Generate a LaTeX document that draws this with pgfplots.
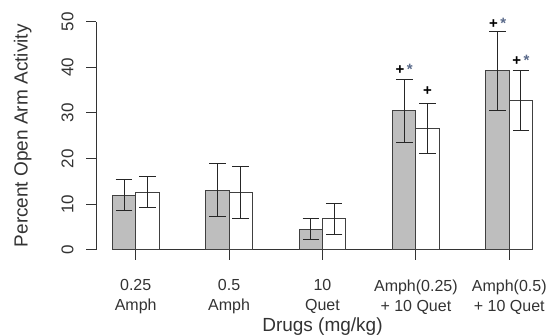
\documentclass[border=0pt]{standalone}
\usepackage{pgfplots}
\usepackage{pgfplotstable}
\pgfplotsset{compat=1.18}
\usepackage{fontspec}
\setmainfont{Liberation Sans}
\definecolor{barfill}{HTML}{BEBEBE}
\definecolor{ink}{HTML}{333333}
\definecolor{starc}{HTML}{5A6A8A}

\pgfplotstableread{
x y e
0 12.0 3.45
1 13.1 5.75
2 4.5 2.3
3 30.5 6.9
4 39.2 8.55
}\graydata
\pgfplotstableread{
x y e
0 12.6 3.4
1 12.6 5.75
2 6.8 3.35
3 26.6 5.4
4 32.7 6.55
}\whitedata

\begin{document}
\begin{tikzpicture}
\begin{axis}[
 scale only axis, width=453pt, height=228.3pt,
 xmin=-0.425, xmax=4.425, ymin=0, ymax=50,
 axis y line*=left, axis x line*=bottom,
 x axis line style={draw=none},
 y axis line style={draw=ink, line width=1pt, -},
 tick style={draw=ink, line width=1pt},
 tick align=outside, major tick length=10pt,
 xtick={0,1,2,3,4},
 xticklabels={{0.25\\Amph},{0.5\\Amph},{10\\Quet},{Amph(0.25)\\+ 10 Quet},{Amph(0.5)\\+ 10 Quet}},
 xticklabel style={align=center, font=\fontsize{16}{20}\selectfont, text=ink},
 xticklabel shift=16pt,
 ytick={0,10,20,30,40,50},
 yticklabels={0,10,20,30,40,50},
 yticklabel style={rotate=90, anchor=south, font=\fontsize{17}{18}\selectfont, text=ink},
 yticklabel shift=9pt,
 xlabel={Drugs (mg/kg)}, ylabel={Percent Open Arm Activity},
 label style={font=\fontsize{19}{21}\selectfont, text=ink},
 xlabel style={at={(axis description cs:0.5,-0.337)}, anchor=center},
 ylabel style={at={(axis description cs:-0.162,0.5)}, anchor=center},
 ybar, bar width=0.25,
 clip=false,
]
\addplot[sharp plot, draw=ink, line width=1pt, forget plot] coordinates {(-0.25,0) (4.25,0)};
\addplot[ybar, bar shift=-0.125, fill=barfill, draw=black!75, line width=1pt,
  error bars/.cd, y dir=both, y explicit,
  error bar style={line width=1pt, black!85},
  error mark options={rotate=90, mark size=8.3pt, line width=1pt, black!85}]
  table[x=x, y=y, y error=e] {\graydata};
\addplot[ybar, bar shift=0.125, fill=white, draw=black!75, line width=1pt,
  error bars/.cd, y dir=both, y explicit,
  error bar style={line width=1pt, black!85},
  error mark options={rotate=90, mark size=8.3pt, line width=1pt, black!85}]
  table[x=x, y=y, y error=e] {\whitedata};
\node[font=\fontsize{15}{15}\selectfont\bfseries, inner sep=0pt] at (axis cs:2.875,39.6) {+\,\textcolor{starc}{*}};
\node[font=\fontsize{15}{15}\selectfont\bfseries, inner sep=0pt] at (axis cs:3.125,34.7) {+};
\node[font=\fontsize{15}{15}\selectfont\bfseries, inner sep=0pt] at (axis cs:3.875,49.6) {+\,\textcolor{starc}{*}};
\node[font=\fontsize{15}{15}\selectfont\bfseries, inner sep=0pt] at (axis cs:4.125,41.6) {+\,\textcolor{starc}{*}};
\coordinate (bbsw) at (axis cs:-1.453,-18.83);
\coordinate (bbne) at (axis cs:4.404,54.75);
\end{axis}
\pgfresetboundingbox
\path[use as bounding box] (bbsw) rectangle (bbne);
\end{tikzpicture}
\end{document}
